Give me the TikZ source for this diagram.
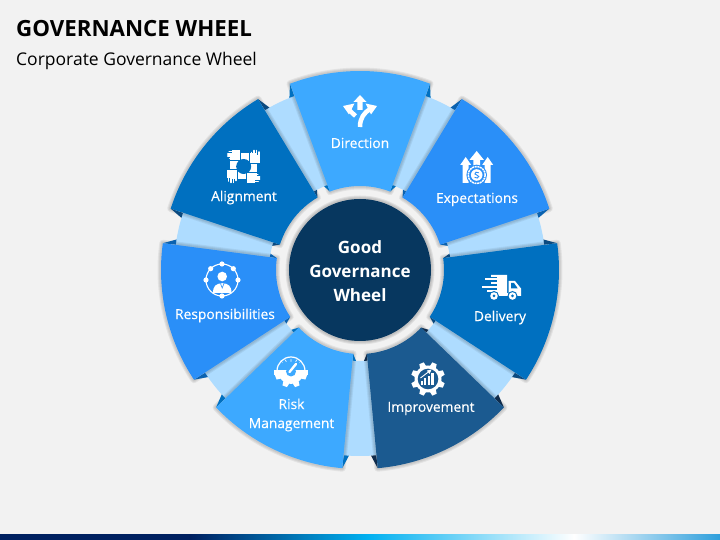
\documentclass[tikz,border=0pt]{standalone}
\usepackage{fontspec}
\setmainfont{Open Sans}
\newfontfamily\labfont[FakeBold=0.35]{Open Sans}
\usetikzlibrary{calc}
\definecolor{bgc}{HTML}{F2F2F2}
\definecolor{lightseg}{HTML}{3DA9FF}
\definecolor{midseg}{HTML}{2A8FF8}
\definecolor{deepseg}{HTML}{0070C0}
\definecolor{navyseg}{HTML}{1B5A90}
\definecolor{hubc}{HTML}{07375F}
\definecolor{stripc}{HTML}{AEDCFF}
\definecolor{foldlight}{HTML}{0070C0}
\definecolor{foldmid}{HTML}{0A62B0}
\definecolor{folddeep}{HTML}{0B4A80}
\definecolor{foldnavy}{HTML}{0F2C4C}
\definecolor{barA}{HTML}{002060}
\definecolor{barB}{HTML}{00B0F0}
\definecolor{barD}{HTML}{2E9FDC}
\tikzset{
  seglabel/.style={text=white,font=\labfont\fontsize{13.8}{17}\selectfont,align=center,inner sep=0pt},
  hublabel/.style={text=white,font=\bfseries\fontsize{17}{24}\selectfont,align=center,inner sep=0pt},
  iconline/.style={draw=white,line cap=round,line join=round},
}
% sector: centre angle, fill, fold colour
\newcommand\wheelseg[3]{%
  \foreach \w in {7,5,3}{
    \draw[black,opacity=.06,line width=\w pt,line join=round]
      ({#1-21}:84) -- ({#1-20.6}:199) arc[start angle={#1-20.6},end angle={#1+20.6},radius=199]
      -- ({#1+21}:84) arc[start angle={#1+21},end angle={#1-21},radius=84] -- cycle;
  }
  \fill[#3] ({#1+20.6}:199) -- ({#1+20.7}:186) -- ({#1+22.3}:186) -- cycle;
  \fill[#3] ({#1-20.6}:199) -- ({#1-20.7}:186) -- ({#1-22.3}:186) -- cycle;
  \fill[#3] ({#1+21}:84) -- ({#1+21}:91) -- ({#1+23.2}:91) -- cycle;
  \fill[#3] ({#1-21}:84) -- ({#1-21}:91) -- ({#1-23.2}:91) -- cycle;
  \fill[#2]
      ({#1-21}:84) -- ({#1-20.6}:199) arc[start angle={#1-20.6},end angle={#1+20.6},radius=199]
      -- ({#1+21}:84) arc[start angle={#1+21},end angle={#1-21},radius=84] -- cycle;
}
\newcommand\wheelstrip[1]{%
  \fill[stripc] ({#1-5.8}:91) -- ({#1-5.8}:186) arc[start angle={#1-5.8},end angle={#1+5.8},radius=186]
      -- ({#1+5.8}:91) arc[start angle={#1+5.8},end angle={#1-5.8},radius=91] -- cycle;
}
% gear: centre x, y, hub radius, tooth radius
\newcommand\geardisc[4]{%
  \fill[white] (#1,#2) circle[radius=#3];
  \foreach \t in {0,45,...,315}{
    \fill[white,shift={(#1,#2)},rotate=\t+22.5] (-3.2,#3-1) -- (-2.4,#4) -- (2.4,#4) -- (3.2,#3-1) -- cycle;
  }
}
\begin{document}
\begin{tikzpicture}[x=1pt,y=1pt]
\useasboundingbox (-360,-270) rectangle (360,270);
\fill[bgc] (-360,-270) rectangle (360,270);

% bottom gradient bar
\fill[barA] (-360,-270) rectangle (-170,-264);
\shade[left color=barA,right color=barB,draw=none] (-170.2,-270) rectangle (7.2,-264);
\shade[left color=barB,right color=white,draw=none] (7,-270) rectangle (214.2,-264);
\shade[left color=white,right color=barD,draw=none] (214,-270) rectangle (360,-264);

% wheel
\foreach \c in {64.29,12.86,-38.57,-90,-141.43,-192.86,115.71}{\wheelstrip{\c}}
\wheelseg{90}{lightseg}{foldlight}
\wheelseg{38.57}{midseg}{foldmid}
\wheelseg{-12.86}{deepseg}{folddeep}
\wheelseg{-64.29}{navyseg}{foldnavy}
\wheelseg{-115.71}{lightseg}{foldlight}
\wheelseg{-167.14}{midseg}{foldmid}
\wheelseg{141.43}{deepseg}{folddeep}

% hub
\foreach \w in {7,5,3}{
  \draw[black,opacity=.07,line width=\w pt] (0,0) circle[radius=71];
}
\node[circle,fill=hubc,minimum size=142pt,inner sep=0pt] (hub) at (0,0) {};

\begin{scope}[x=1pt,y=-1pt,shift={(-360pt,270pt)}]
% titles
\node[anchor=base west,inner sep=0pt,font=\bfseries\fontsize{22.3}{26}\selectfont,text=black] (title) at (16,37) {GOVERNANCE WHEEL};
\node[anchor=base west,inner sep=0pt,font=\fontsize{17.5}{21}\selectfont,text=black] (subtitle) at (16,65.5) {Corporate Governance Wheel};

\node[hublabel] (hubtext) at (360,271) {Good\\Governance\\Wheel};
\node[seglabel] (direction) at (360,143) {Direction};
\node[seglabel] (expectations) at (477,199.5) {Expectations};
\node[seglabel] (delivery) at (500,317.5) {Delivery};
\node[seglabel] (improvement) at (431,408.5) {Improvement};
\node[seglabel,font=\labfont\fontsize{13.8}{19}\selectfont] (risk) at (291.5,415) {Risk\\Management};
\node[seglabel] (responsibilities) at (225,315.5) {Responsibilities};
\node[seglabel] (alignment) at (244,197.5) {Alignment};

% --- Direction icon
\fill[white] (360,95) -- (366.5,102) -- (362.5,102) -- (362.5,110) -- (357.5,110) -- (357.5,102) -- (353.5,102) -- cycle;
\draw[white,line width=4.5pt] (360,127) .. controls (360,118) and (364,113) .. (370,109);
\fill[white] (377,106) -- (365.5,103.5) -- (371,114.5) -- cycle;
\draw[white,line width=4.5pt] (355.5,116) -- (349,110);
\fill[white] (343,106) -- (354.5,103.5) -- (349,114.5) -- cycle;

% --- Expectations icon
\fill[white] (476.7,151) -- (484,160) -- (480,160) -- (480,168) -- (473.4,168) -- (473.4,160) -- (469.4,160) -- cycle;
\foreach \ax in {465.7,487.7}{
  \fill[white] (\ax,157) -- (\ax+5.5,165) -- (\ax+3,165) -- (\ax+3,183) -- (\ax-3,183) -- (\ax-3,165) -- (\ax-5.5,165) -- cycle;
}
\fill[midseg] (476.7,175) circle[radius=10.3];
\draw[white,line width=1.5pt,dash pattern=on 2pt off 0.7pt] (476.7,175) circle[radius=8.5];
\fill[white] (476.7,175) circle[radius=5.8];
\draw[midseg,line width=.9pt] (478.8,172.8) .. controls (477,171.4) and (474.4,172.2) .. (474.9,174) .. controls (475.4,175.5) and (478.8,174.8) .. (478.8,176.5) .. controls (478.8,178.3) and (475.8,178.5) .. (474.6,177.3);

% --- Delivery icon
\fill[white] (491,275) -- (507,275) -- (507,293) -- (497,293) -- (497,276.8) -- (491,276.8) -- cycle;
\fill[white] (485,278) rectangle (498,280.3);
\fill[white] (482,285.6) rectangle (498,287.9);
\fill[white] (487,290) rectangle (498,292.3);
\fill[white] (491,282) rectangle (498,283.8);
\fill[white] (508.5,281) -- (515,281) -- (521,288.5) -- (521,296) -- (508.5,296) -- cycle;
\fill[deepseg] (511,283) -- (514,283) -- (517.7,288.3) -- (511,288.3) -- cycle;
\fill[white] (491,293) rectangle (508,296);
\foreach \wx in {494,512.5}{
  \fill[deepseg] (\wx,296) circle[radius=5];
  \fill[white] (\wx,296) circle[radius=3.8];
  \fill[deepseg] (\wx,296) circle[radius=1.5];
}

% --- Improvement icon
\geardisc{428}{379}{13.5}{17}
\fill[navyseg] (428,379) circle[radius=10.3];
\fill[white] (420.5,381) rectangle (422.5,385);
\fill[white] (424,378.5) rectangle (426.2,385);
\fill[white] (427.7,376) rectangle (429.9,385);
\fill[white] (431.4,373) rectangle (433.6,385);
\draw[white,line width=.9pt] (420.5,378) -- (429,371.5);
\fill[white] (431.5,369.5) -- (426.8,370.6) -- (429.6,374) -- cycle;

% --- Risk management icon
\begin{scope}
\clip (268,371) rectangle (314,392);
\geardisc{291}{371}{13}{16.5}
\end{scope}
\fill[white] (274,370.5) rectangle (308,375);
\fill[lightseg] (291,371.5) circle[radius=5];
\begin{scope}
\clip (270,350) rectangle (312,370.5);
\draw[white,line width=1.2pt] (291,371) circle[radius=14];
\end{scope}
\draw[iconline,line width=.7pt] (281,361) -- (282.5,362.5) (291,359.5) -- (291,361.5) (301,361) -- (299.5,362.5) (285.5,360) -- (286.2,361.6) (296.5,360) -- (295.8,361.6);
\draw[iconline,line width=2.4pt] (289.5,372) -- (296,364);

% --- Responsibilities icon
\draw[white,line width=1.1pt] (222,280) circle[radius=16];
\foreach \d in {0,45,135,180}{
  \fill[white] ($(222,280)+({16*cos(\d)},{-16*sin(\d)})$) circle[radius=2.6];
}
\fill[white] (222,264) circle[radius=2.6];
\fill[white] (222,296) circle[radius=2.6];
\fill[white] (222.2,276.5) circle[radius=4.8];
\fill[white] (213,293) .. controls (213,286) and (216,283.5) .. (222.2,283.2) .. controls (228.5,283.5) and (231.5,286) .. (231.5,293) -- cycle;
\draw[midseg,line width=.6pt] (220.5,283.5) -- (222.2,288) -- (224,283.5);

% --- Alignment icon
\fill[white] (230.5,153.5) rectangle (257,179.5);
\foreach \r in {0,90,180,270}{
  \begin{scope}[rotate around={\r:(243.7,166.5)}]
    \draw[deepseg,line width=.7pt] (249.8,150) -- (249.8,163.5) -- (261,163.5);
    \fill[white] (250.6,155) rectangle (260,162.7);
    \draw[white,line width=1.7pt,line cap=round] (251.6,158) -- (251.6,152.5);
    \draw[white,line width=1.7pt,line cap=round] (254,158) -- (254,150.6);
    \draw[white,line width=1.7pt,line cap=round] (256.4,158) -- (256.4,150.6);
    \draw[white,line width=1.7pt,line cap=round] (258.8,158) -- (258.8,152);
  \end{scope}
}
\fill[deepseg] (243.7,166.5) circle[radius=7.5];
\end{scope}
\end{tikzpicture}
\end{document}
